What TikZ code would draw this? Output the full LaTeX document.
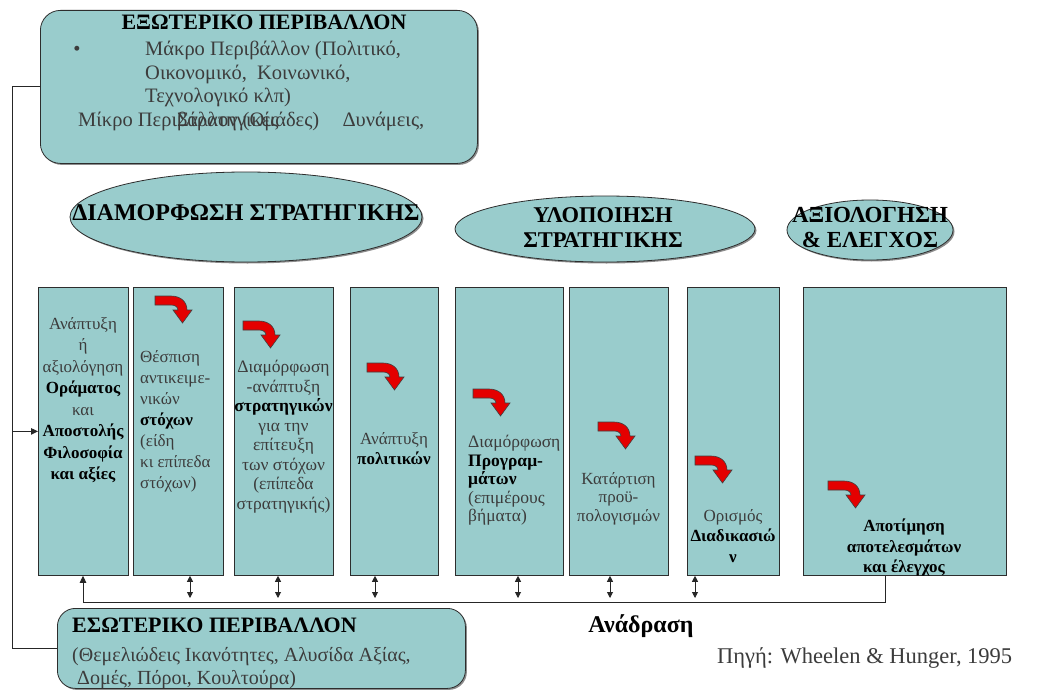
\documentclass[tikz,border=0pt]{standalone}
\usepackage{fontspec}
\setmainfont{Liberation Serif}
\usetikzlibrary{shapes.geometric,arrows.meta,shadows}
\definecolor{tealfill}{RGB}{153,204,204}
\definecolor{edgecol}{RGB}{45,45,45}
\definecolor{txtcol}{RGB}{60,60,60}
\definecolor{arrred}{RGB}{228,0,0}
\begin{document}
\begin{tikzpicture}[x=1pt,y=-1pt,
  panel/.style={draw=edgecol, line width=0.8pt, fill=tealfill},
  shad/.style={drop shadow={shadow xshift=1.5pt, shadow yshift=-1.5pt, opacity=0.45, fill=black}},
  colbox/.style={panel, anchor=north west, minimum height=288, inner sep=0},
  oval/.style={panel, ellipse, inner sep=0, shad},
  wire/.style={draw=black!85, line width=0.9pt},
  tip/.style={-{Triangle[length=7pt,width=6.5pt]}},
  dbl/.style={{Triangle[length=6pt,width=6pt]}-{Triangle[length=6pt,width=6pt]}},
  bt/.style={inner sep=0, text=txtcol, font=\fontsize{17}{21}\selectfont},
  ct/.style={bt, align=center, anchor=north},
  lt/.style={bt, align=left, anchor=north west},
  redarrow/.pic={\filldraw[fill=arrred, draw=black!75, line width=0.6pt]
     (0,0) -- (16,0) .. controls (26,0) and (32,6) .. (32,14) -- (37,14) -- (27.5,27)
     -- (18,14) -- (23,14) .. controls (23,11) and (20,9) .. (16,9) -- (0,9) -- cycle;}
]
\useasboundingbox (0,0) rectangle (1049,690);
\fill[white] (0,0) rectangle (1049,690);

% external environment
\node[panel, shad, rounded corners=20, anchor=north west, minimum width=437, minimum height=153, inner sep=0] (ext) at (40,10) {};
\node[inner sep=0, anchor=base, font=\fontsize{22}{26}\selectfont\bfseries] (extT) at (264,30) {ΕΞΩΤΕΡΙΚΟ ΠΕΡΙΒΑΛΛΟΝ};
\node[inner sep=0, anchor=base, text=txtcol, font=\fontsize{20.5}{23}\selectfont] (bul) at (77,56) {•};
\node[inner sep=0, anchor=north west, align=left, text=txtcol, font=\fontsize{20.5}{23.5}\selectfont] (extB) at (145,41) {Μάκρο Περιβάλλον (Πολιτικό,\\Οικονομικό,\ \ Κοινωνικό,\\Τεχνολογικό κλπ)};
\node[inner sep=0, anchor=base west, text=txtcol, font=\fontsize{20.5}{23}\selectfont] (micA) at (78,127) {Μίκρο Περιβάλλον (Ομάδες)};
\node[inner sep=0, anchor=base west, text=txtcol, font=\fontsize{20.5}{23}\selectfont] (micB) at (177,127) {Στρατηγικές\hspace{64pt}Δυνάμεις,};

% ovals
\node[oval, minimum width=352, minimum height=90] (o1) at (246,217) {};
\node[inner sep=0, anchor=base, font=\fontsize{24}{28}\selectfont\bfseries] (o1t) at (246,220) {ΔΙΑΜΟΡΦΩΣΗ ΣΤΡΑΤΗΓΙΚΗΣ};
\node[oval, minimum width=300, minimum height=66] (o2) at (605,229) {};
\node[inner sep=0, anchor=north, align=center, font=\fontsize{22.5}{25}\selectfont\bfseries] (o2t) at (603,207) {ΥΛΟΠΟΙΗΣΗ\\ΣΤΡΑΤΗΓΙΚΗΣ};
\node[oval, minimum width=166, minimum height=60] (o3) at (870,230) {};
\node[inner sep=0, anchor=north, align=center, font=\fontsize{23}{25}\selectfont\bfseries] (o3t) at (870,207) {ΑΞΙΟΛΟΓΗΣΗ\\\&\ ΕΛΕΓΧΟΣ};

% columns
\node[colbox, minimum width=90] (c1) at (38,287) {};
\node[colbox, minimum width=90] (c2) at (133,287) {};
\node[colbox, minimum width=99] (c3) at (234,287) {};
\node[colbox, minimum width=88] (c4) at (350,287) {};
\node[colbox, minimum width=108] (c5) at (455,287) {};
\node[colbox, minimum width=99] (c6) at (569,287) {};
\node[colbox, minimum width=92] (c7) at (687,287) {};
\node[colbox, minimum width=203] (c8) at (803,287) {};

% red bent arrows
\pic at (155,296) {redarrow};
\pic at (243,321) {redarrow};
\pic at (367,363) {redarrow};
\pic at (473,389) {redarrow};
\pic at (598,422) {redarrow};
\pic at (695,456) {redarrow};
\pic at (828,481) {redarrow};

% column texts
\node[ct, font=\fontsize{17}{21.5}\selectfont] (t1) at (83,317) {Ανάπτυξη\\ή\\αξιολόγηση\\\textbf{\color{black}Οράματος}\\και\\\textbf{\color{black}Αποστολής}\\\textbf{\color{black}Φιλοσοφία}\\\textbf{\color{black}και αξίες}};
\node[lt, font=\fontsize{17}{21}\selectfont] (t2) at (140,350) {Θέσπιση\\αντικειμε-\\νικών\\\textbf{\color{black}στόχων}\\(είδη\\κι επίπεδα\\στόχων)};
\node[ct, font=\fontsize{17.5}{19.5}\selectfont] (t3) at (283.5,360) {Διαμόρφωση\\-ανάπτυξη\\\textbf{\color{black}στρατηγικών}\\για την\\επίτευξη\\των στόχων\\(επίπεδα\\στρατηγικής)};
\node[ct, font=\fontsize{17}{20}\selectfont] (t4) at (394,432) {Ανάπτυξη\\\textbf{\color{black}πολιτικών}};
\node[lt, font=\fontsize{17.5}{18.5}\selectfont] (t5) at (468,435) {Διαμόρφωση\\\textbf{\color{black}Προγραμ-}\\\textbf{\color{black}μάτων}\\(επιμέρους\\βήματα)};
\node[ct, font=\fontsize{17}{18.5}\selectfont] (t6) at (618.5,472) {Κατάρτιση\\προϋ-\\πολογισμών};
\node[ct, font=\fontsize{17}{20.5}\selectfont] (t7) at (733,509) {Ορισμός\\\textbf{\color{black}Διαδικασιώ}\\\textbf{\color{black}ν}};
\node[ct, font=\fontsize{17}{20.5}\selectfont\bfseries, text=black] (t8) at (904,519) {Αποτίμηση\\αποτελεσμάτων\\και έλεγχος};

% internal environment
\node[panel, shad, rounded corners=18, anchor=north west, minimum width=408, minimum height=80, inner sep=0] (int) at (57,608) {};
\node[inner sep=0, anchor=base west, font=\fontsize{22}{26}\selectfont\bfseries] (intT) at (72,632) {ΕΣΩΤΕΡΙΚΟ ΠΕΡΙΒΑΛΛΟΝ};
\node[inner sep=0, anchor=north west, align=left, text=txtcol, font=\fontsize{20}{23}\selectfont] (intB) at (72,647) {(Θεμελιώδεις Ικανότητες, Αλυσίδα Αξίας,\\\ Δομές, Πόροι, Κουλτούρα)};

% left loop
\coordinate (lx) at (12,0);
\draw[wire] (ext.west) -| (lx |- int.west) -- (int.west);
\draw[wire, tip] (lx |- c1.west) -- (c1.west);

% feedback
\coordinate (fbL) at (83,602);
\coordinate (fbR) at (885,602);
\draw[wire, tip] (fbR |- c8.south) -- (fbR) -- (fbL) -- (fbL |- c1.south);
\coordinate (d2) at (190,598);
\coordinate (d3) at (278,598);
\coordinate (d4) at (375,598);
\coordinate (d5) at (518,598);
\coordinate (d6) at (610,598);
\coordinate (d7) at (695,598);
\draw[wire, dbl] (d2 |- c2.south) -- (d2);
\draw[wire, dbl] (d3 |- c3.south) -- (d3);
\draw[wire, dbl] (d4 |- c4.south) -- (d4);
\draw[wire, dbl] (d5 |- c5.south) -- (d5);
\draw[wire, dbl] (d6 |- c6.south) -- (d6);
\draw[wire, dbl] (d7 |- c7.south) -- (d7);

\node[inner sep=0, anchor=base, font=\fontsize{24}{28}\selectfont\bfseries] (fbT) at (641,632) {Ανάδραση};
\node[inner sep=0, anchor=base west, text=txtcol, font=\fontsize{22.5}{26}\selectfont] (src) at (717,663) {Πηγή: Wheelen \& Hunger, 1995};
\end{tikzpicture}
\end{document}
